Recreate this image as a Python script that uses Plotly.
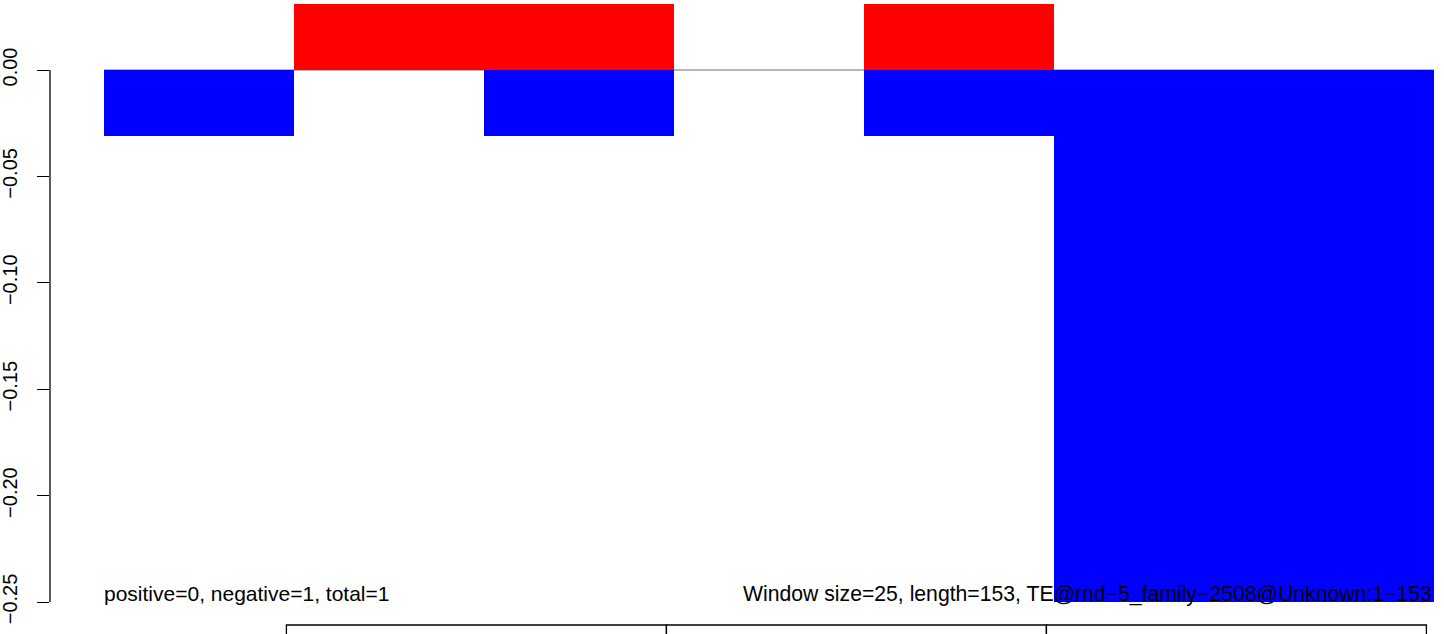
import plotly.graph_objects as go

# ---- data ----
window_starts = [0, 25, 50, 75, 100, 125, 150]
window_size = 25
positive_vals = [0, 0.031, 0.031, 0, 0.031, 0, 0]
negative_vals = [-0.031, 0, -0.031, 0, -0.031, -0.25, -0.25]
y_ticks = [0.00, -0.05, -0.10, -0.15, -0.20, -0.25]
track_edges = [24, 74, 124, 174]
left_text = "positive=0, negative=1, total=1"
right_text = "Window size=25, length=153, TE@rnd\u22125_family\u22122508@Unknown:1\u2212153"
seq_len = 175

centers = [s + window_size / 2 for s in window_starts]

FONT = "Liberation Sans, Arial, Helvetica, sans-serif"

fig = go.Figure()
fig.add_trace(go.Bar(x=centers, y=positive_vals, width=window_size,
                     marker=dict(color="#ff0000", line=dict(width=0)),
                     showlegend=False, hoverinfo="skip"))
fig.add_trace(go.Bar(x=centers, y=negative_vals, width=window_size,
                     marker=dict(color="#0000ff", line=dict(width=0)),
                     showlegend=False, hoverinfo="skip"))

# zero line
fig.add_shape(type="line", x0=0, x1=seq_len, y0=0, y1=0,
              line=dict(color="#6e6e6e", width=1.2), layer="below")

# y axis line
fig.add_shape(type="line", xref="paper", x0=0, x1=0, y0=y_ticks[0], y1=y_ticks[-1],
              line=dict(color="black", width=1.3))

# track boxes at bottom
for a, b in zip(track_edges[:-1], track_edges[1:]):
    fig.add_shape(type="rect", x0=a, x1=b, y0=-0.2608, y1=-0.40,
                  line=dict(color="black", width=1.3), fillcolor="rgba(0,0,0,0)")

fig.add_annotation(x=0, y=-0.2462, text=left_text, showarrow=False,
                   xanchor="left", yanchor="middle", xshift=-2,
                   font=dict(family=FONT, size=21, color="black"))
fig.add_annotation(x=seq_len, y=-0.2462, text=right_text, showarrow=False,
                   xanchor="right", yanchor="middle",
                   font=dict(family=FONT, size=21.2, color="black"))

px_per_x = 7.6
x0_px = 104
y_px_per = 2128
fig.update_layout(
    width=1444, height=634,
    margin=dict(l=50, r=0, t=0, b=0),
    paper_bgcolor="white", plot_bgcolor="white",
    barmode="overlay",
    xaxis=dict(range=[(50 - x0_px) / px_per_x, (1444 - x0_px) / px_per_x],
               showgrid=False, zeroline=False, showline=False,
               showticklabels=False, ticks=""),
    yaxis=dict(range=[-(634 - 70) / y_px_per, 70 / y_px_per],
               tickvals=y_ticks, tickformat=".2f",
               ticks="outside", ticklen=12, tickwidth=1.3, tickcolor="black",
               tickangle=-90, ticklabelstandoff=12,
               tickfont=dict(family=FONT, size=20, color="black"),
               showgrid=False, zeroline=False, showline=False),
)

fig.write_html("out.html", config={"displayModeBar": False},
               post_script="document.body.style.margin='0';document.body.style.overflow='hidden';")
